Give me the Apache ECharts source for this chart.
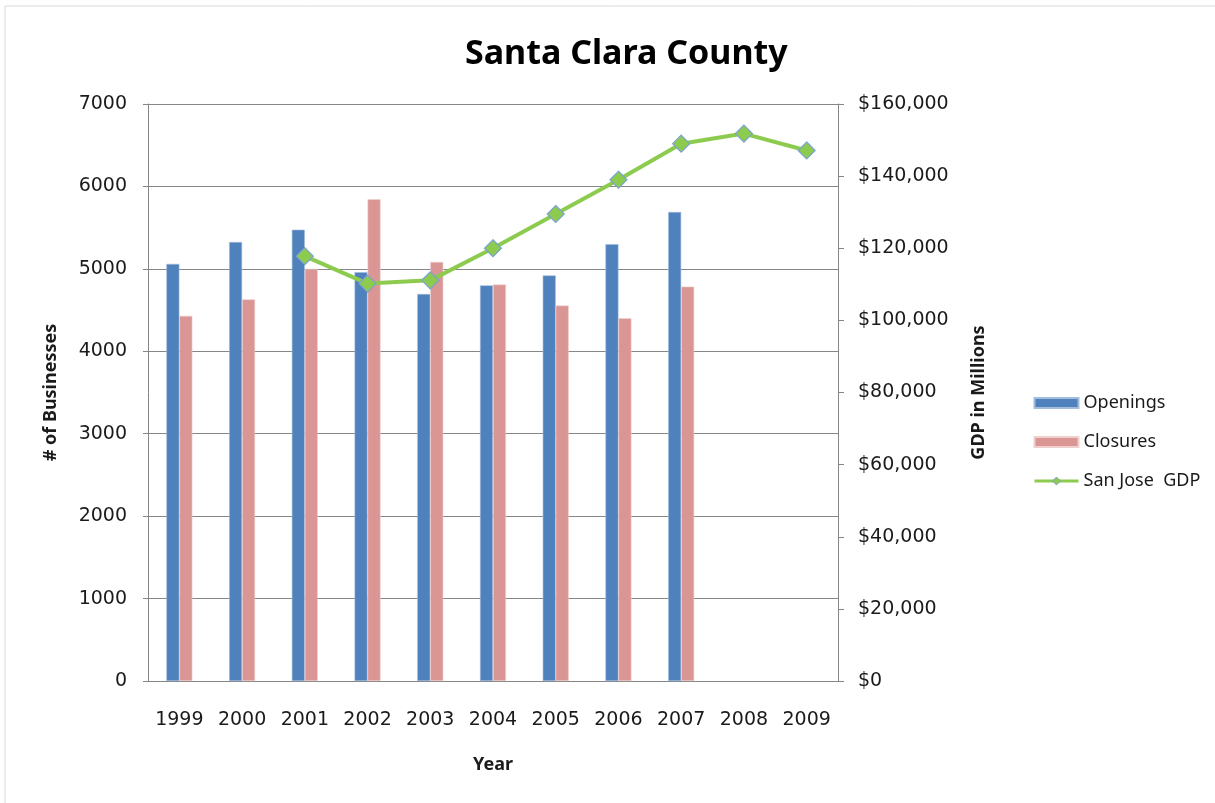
<!DOCTYPE html>
<html>
<head>
<meta charset="utf-8">
<script src="https://cdn.jsdelivr.net/npm/echarts@6/dist/echarts.min.js"></script>
<style>
  html, body { margin: 0; padding: 0; background: #fff; }
  #chart { width: 1215px; height: 803px; }
</style>
</head>
<body>
<div id="chart"></div>
<script>
// data
var years = ['1999', '2000', '2001', '2002', '2003', '2004', '2005', '2006', '2007', '2008', '2009'];
var openings = [5060, 5325, 5475, 4960, 4695, 4800, 4920, 5300, 5690, null, null];
var closures = [4430, 4630, 5000, 5845, 5085, 4810, 4555, 4400, 4785, null, null];
var gdp = [null, null, 117800, 110200, 111100, 120000, 129500, 139000, 149000, 151800, 147100];

var leftTicks = { min: 0, max: 7000, interval: 1000 };
var rightTicks = { min: 0, max: 160000, interval: 20000 };

var axisGray = '#868686';
var txt = '#1a1a1a';

var chart = echarts.init(document.getElementById('chart'));

chart.setOption({
    animation: false,
    backgroundColor: '#fff',
    graphic: [{
        type: 'rect',
        shape: { x: 5, y: 6, width: 1230, height: 820 },
        style: { fill: 'none', stroke: '#d9d9d9', lineWidth: 1 },
        silent: true
    }],
    title: {
        text: 'Santa Clara County',
        left: 460,
        top: 32,
        textStyle: {
            fontFamily: 'Noto Sans',
            fontWeight: 'bold',
            fontSize: 34,
            color: '#000'
        }
    },
    legend: {
        orient: 'vertical',
        left: 1033,
        top: 394,
        padding: 0,
        itemWidth: 44,
        itemHeight: 10,
        itemGap: 21,
        textStyle: { fontFamily: 'Noto Sans', fontSize: 18, color: txt },
        data: [
            { name: 'Openings', icon: 'rect' },
            { name: 'Closures', icon: 'rect' },
            { name: 'San Jose  GDP', itemStyle: { borderWidth: 1 }, lineStyle: { width: 3 } }
        ]
    },
    grid: { left: 148, right: 377, top: 104, bottom: 122 },
    xAxis: {
        type: 'category',
        data: years,
        name: 'Year',
        nameLocation: 'middle',
        nameGap: 75,
        nameTextStyle: { fontFamily: 'Noto Sans', fontWeight: 'bold', fontSize: 18, color: txt },
        axisLine: { lineStyle: { color: axisGray, width: 1 } },
        axisTick: { show: false },
        axisLabel: { interval: 0, margin: 30, fontFamily: 'DejaVu Sans', fontSize: 19, color: txt }
    },
    yAxis: [{
        type: 'value',
        min: leftTicks.min,
        max: leftTicks.max,
        interval: leftTicks.interval,
        name: '# of Businesses',
        nameLocation: 'middle',
        nameRotate: 90,
        nameGap: 88,
        nameTextStyle: { fontFamily: 'Noto Sans', fontWeight: 'bold', fontSize: 18, color: txt },
        axisLine: { show: true, lineStyle: { color: axisGray, width: 1 } },
        axisTick: { show: true, inside: false, length: 5, lineStyle: { color: axisGray } },
        splitLine: { show: true, lineStyle: { color: axisGray, width: 1 } },
        axisLabel: {
            margin: 21,
            fontFamily: 'DejaVu Sans',
            fontSize: 19,
            color: txt,
            formatter: function (v) { return String(v); }
        }
    }, {
        type: 'value',
        position: 'right',
        min: rightTicks.min,
        max: rightTicks.max,
        interval: rightTicks.interval,
        name: 'GDP in Millions',
        nameLocation: 'middle',
        nameRotate: 90,
        nameGap: 132,
        nameTextStyle: { fontFamily: 'Noto Sans', fontWeight: 'bold', fontSize: 18, color: txt },
        axisLine: { show: true, lineStyle: { color: axisGray, width: 1 } },
        axisTick: { show: true, inside: false, length: 6, lineStyle: { color: axisGray } },
        splitLine: { show: false },
        axisLabel: {
            margin: 20,
            fontFamily: 'DejaVu Sans',
            fontSize: 19,
            color: txt,
            formatter: function (v) {
                return '$' + v.toLocaleString('en-US');
            }
        }
    }],
    series: [{
        name: 'Openings',
        type: 'bar',
        data: openings,
        barWidth: 13,
        barGap: '0%',
        itemStyle: { color: '#4F81BD', borderColor: '#A3BBDC', borderWidth: 0.6 }
    }, {
        name: 'Closures',
        type: 'bar',
        data: closures,
        barWidth: 13,
        barGap: '0%',
        itemStyle: { color: '#D99694', borderColor: '#F0D0CF', borderWidth: 0.6 }
    }, {
        name: 'San Jose  GDP',
        type: 'line',
        yAxisIndex: 1,
        data: gdp,
        symbol: 'diamond',
        symbolSize: 17,
        lineStyle: { color: '#8DCB4F', width: 4 },
        itemStyle: { color: '#8DCB4F', borderColor: '#7AA2CF', borderWidth: 1.2 },
        z: 5
    }]
});
</script>
</body>
</html>
